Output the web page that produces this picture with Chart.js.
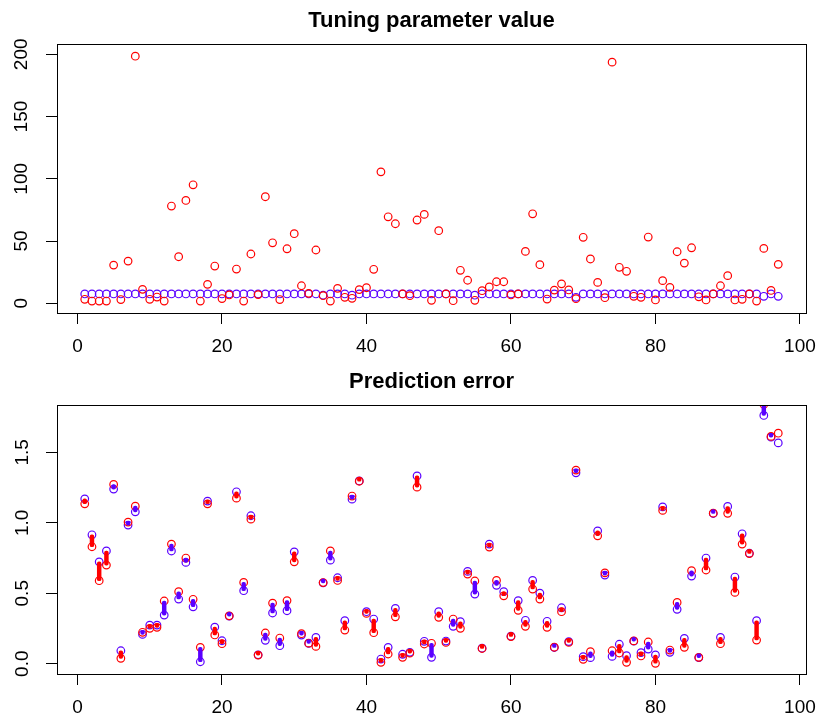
<!DOCTYPE html>
<html>
<head>
<meta charset="utf-8">
<script src="https://cdn.jsdelivr.net/npm/chart.js@4.4.1/dist/chart.umd.min.js"></script>
<style>
  html, body { margin: 0; padding: 0; background: #fff; }
  #wrap { position: relative; width: 816px; height: 716px; }
  canvas { position: absolute; left: 0; }
  #tuneChart { top: 0; }
  #errChart { top: 361px; }
</style>
</head>
<body>
<div id="wrap">
  <canvas id="tuneChart" width="816" height="355"></canvas>
  <canvas id="errChart" width="816" height="355"></canvas>
</div>
<script>
/* ---------------- data ---------------- */
const xTicks = [0, 20, 40, 60, 80, 100];
const tuneYTicks = [0, 50, 100, 150, 200];
const errYTicks = [0, 0.5, 1.0, 1.5];

// top panel: tuning parameter value, obs 1..97
const tuneRed = [
  3.2, 1.8, 1.8, 1.8, 30.7, 3, 33.9, 198.5, 11.2, 3.2,
  5, 1.8, 78.1, 37.4, 82.6, 95.2, 1.8, 15.2, 29.9, 3.8,
  6.7, 27.5, 1.8, 39.6, 7, 85.6, 48.6, 3, 43.8, 55.9,
  14.1, 8, 42.8, 6.1, 1.8, 12, 4.8, 4, 11, 12.5,
  27.3, 105.6, 69.5, 63.9, 7.5, 6.1, 66.9, 71.4, 2.4, 58.3,
  7.5, 2.1, 26.5, 18.5, 2.4, 10.1, 13.1, 17.3, 17.3, 6.7,
  7.5, 41.7, 71.9, 31, 3.4, 10.6, 15.6, 10.7, 3.7, 53,
  35.6, 16.8, 4.5, 193.7, 28.9, 25.7, 5.6, 4.8, 53.2, 2.7,
  18.2, 12.8, 41.4, 32.3, 44.6, 5.2, 2.7, 7.5, 14.1, 22.2,
  2.7, 3.2, 7.5, 1.8, 44.1, 10.3, 31.3
];
const tuneBlue = [
  7.5, 7.5, 7.5, 7.5, 7.5, 7.5, 7.5, 7.5, 7.5, 7.5,
  7.5, 7.5, 7.5, 7.5, 7.5, 7.5, 7.5, 7.5, 7.5, 7.5,
  7.5, 7.5, 7.5, 7.5, 7.5, 7.5, 7.5, 7.5, 7.5, 7.5,
  7.5, 7.5, 7.5, 6.5, 7.5, 7.5, 7.5, 6.5, 7.5, 7.5,
  7.5, 7.5, 7.5, 7.5, 7.5, 7.5, 7.5, 7.5, 7.5, 7.5,
  7.5, 7.5, 7.5, 7.5, 6.5, 7.5, 7.5, 7.5, 7.5, 7.5,
  7.5, 7.5, 7.5, 7.5, 7.5, 7.5, 7.5, 7.5, 4.8, 7.5,
  7.5, 7.5, 7.5, 7.5, 7.5, 7.5, 7.5, 7.5, 7.5, 7.5,
  7.5, 7.5, 7.5, 7.5, 7.5, 7.5, 7.5, 7.5, 7.5, 7.5,
  7.5, 7.5, 7.5, 7.5, 5.6, 7.5, 5.6
];

// bottom panel: prediction error, obs 1..97
const errRed = [
  1.135, 0.830, 0.589, 0.700, 1.272, 0.038, 1.005, 1.118, 0.223, 0.251,
  0.258, 0.445, 0.849, 0.511, 0.750, 0.457, 0.116, 1.135, 0.204, 0.142,
  0.340, 1.175, 0.577, 1.026, 0.061, 0.218, 0.430, 0.182, 0.448, 0.723,
  0.213, 0.146, 0.123, 0.576, 0.800, 0.591, 0.239, 1.190, 1.295, 0.357,
  0.220, 0.010, 0.069, 0.333, 0.045, 0.075, 1.253, 0.140, 0.145, 0.329,
  0.151, 0.317, 0.251, 0.636, 0.587, 0.108, 0.828, 0.591, 0.482, 0.193,
  0.379, 0.265, 0.530, 0.459, 0.258, 0.117, 0.369, 0.151, 1.374, 0.031,
  0.085, 0.908, 0.645, 0.092, 0.076, 0.010, 0.162, 0.055, 0.154, 0.003,
  1.088, 0.097, 0.435, 0.116, 0.660, 0.045, 0.665, 1.068, 0.142, 1.067,
  0.506, 0.849, 0.782, 0.168, 1.840, 1.613, 1.636
];
const errBlue = [
  1.170, 0.915, 0.723, 0.800, 1.239, 0.092, 0.984, 1.078, 0.208, 0.274,
  0.274, 0.345, 0.800, 0.459, 0.719, 0.404, 0.014, 1.154, 0.260, 0.163,
  0.338, 1.220, 0.518, 1.050, 0.063, 0.166, 0.360, 0.128, 0.376, 0.794,
  0.203, 0.144, 0.187, 0.574, 0.735, 0.610, 0.305, 1.168, 1.297, 0.369,
  0.317, 0.033, 0.116, 0.393, 0.067, 0.081, 1.333, 0.159, 0.045, 0.369,
  0.161, 0.265, 0.298, 0.655, 0.494, 0.110, 0.849, 0.556, 0.511, 0.195,
  0.448, 0.308, 0.591, 0.501, 0.301, 0.115, 0.397, 0.157, 1.355, 0.050,
  0.043, 0.943, 0.629, 0.052, 0.138, 0.057, 0.160, 0.078, 0.104, 0.062,
  1.113, 0.081, 0.386, 0.180, 0.622, 0.043, 0.750, 1.066, 0.187, 1.116,
  0.615, 0.922, 0.784, 0.305, 1.762, 1.608, 1.567
];

const obs = tuneRed.map((_, k) => k + 1);

/* ---------------- style ---------------- */
const RED = "#ff0000";
const BLUE = "#5a00ff";
const TICK_FONT = 19;

Chart.defaults.font.family = "'Liberation Sans', Arial, Helvetica, sans-serif";
Chart.defaults.color = "#000";

// R style box round the plot region
const boxPlugin = {
  id: "rbox",
  afterDraw(chart) {
    const { ctx, chartArea: a } = chart;
    ctx.save();
    ctx.strokeStyle = "#000";
    ctx.lineWidth = 1;
    ctx.strokeRect(Math.round(a.left) + 0.5, Math.round(a.top) + 0.5,
      Math.round(a.right - a.left), Math.round(a.bottom - a.top));
    ctx.restore();
  }
};

function pointSet(vals, color) {
  return {
    type: "scatter",
    data: obs.map((x, k) => ({ x, y: vals[k] })),
    borderColor: color,
    backgroundColor: "transparent",
    pointRadius: 3.8,
    pointBorderWidth: 1.2,
    pointHoverRadius: 3.8
  };
}

function makePanel(id, title, red, blue, yMin, yMax, yTicks, yFmt, yPad, withSegments) {
  const datasets = [];

  if (withSegments) {
    // thick segment from red to blue, colour of the smaller error (last obs has none)
    const n = red.length - 1;
    datasets.push({
      type: "bar",
      data: obs.slice(0, n).map((x, k) => ({ x, y: [red[k], blue[k]] })),
      backgroundColor: obs.slice(0, n).map((x, k) => (red[k] < blue[k] ? RED : BLUE)),
      barThickness: 3.8,
      minBarLength: 3.8,
      borderRadius: 2,
      borderSkipped: false
    });
  }
  datasets.push(pointSet(red, RED));
  datasets.push(pointSet(blue, BLUE));

  return new Chart(document.getElementById(id), {
    type: "scatter",
    data: { datasets },
    options: {
      responsive: false,
      animation: false,
      events: [],
      layout: { padding: { left: 0, right: 10, top: 0, bottom: 0 } },
      plugins: {
        legend: { display: false },
        tooltip: { enabled: false },
        title: {
          display: true,
          fullSize: false,
          text: title,
          color: "#000",
          font: { size: 22, weight: "bold" },
          padding: { top: 8, bottom: 9.6 }
        }
      },
      scales: {
        x: {
          type: "linear",
          offset: false,
          min: -2.84,
          max: 100.84,
          afterBuildTicks: (s) => { s.ticks = xTicks.map((v) => ({ value: v })); },
          afterFit: (s) => { s.height = 42; s.paddingLeft = 0; s.paddingRight = 0; },
          grid: { offset: false, drawOnChartArea: false, tickLength: 11, color: "#000", lineWidth: 1 },
          border: { color: "#000" },
          ticks: { font: { size: TICK_FONT }, padding: 11, maxRotation: 0, color: "#000",
            callback: (v) => String(v) }
        },
        y: {
          type: "linear",
          min: yMin,
          max: yMax,
          afterBuildTicks: (s) => { s.ticks = yTicks.map((v) => ({ value: v })); },
          afterFit: (s) => { s.width = 57; s.paddingTop = 0; s.paddingBottom = 0; },
          grid: { drawOnChartArea: false, tickLength: 11, color: "#000", lineWidth: 1 },
          border: { color: "#000" },
          ticks: { font: { size: TICK_FONT }, padding: yPad, minRotation: 90, maxRotation: 90,
            crossAlign: "center", color: "#000", callback: yFmt }
        }
      }
    },
    plugins: [boxPlugin]
  });
}

makePanel("tuneChart", "Tuning parameter value", tuneRed, tuneBlue,
  -7.8, 208.3, tuneYTicks, (v) => String(v), 8, false);

makePanel("errChart", "Prediction error", errRed, errBlue,
  -0.073, 1.836, errYTicks, (v) => v.toFixed(1), 10.5, true);
</script>
</body>
</html>
